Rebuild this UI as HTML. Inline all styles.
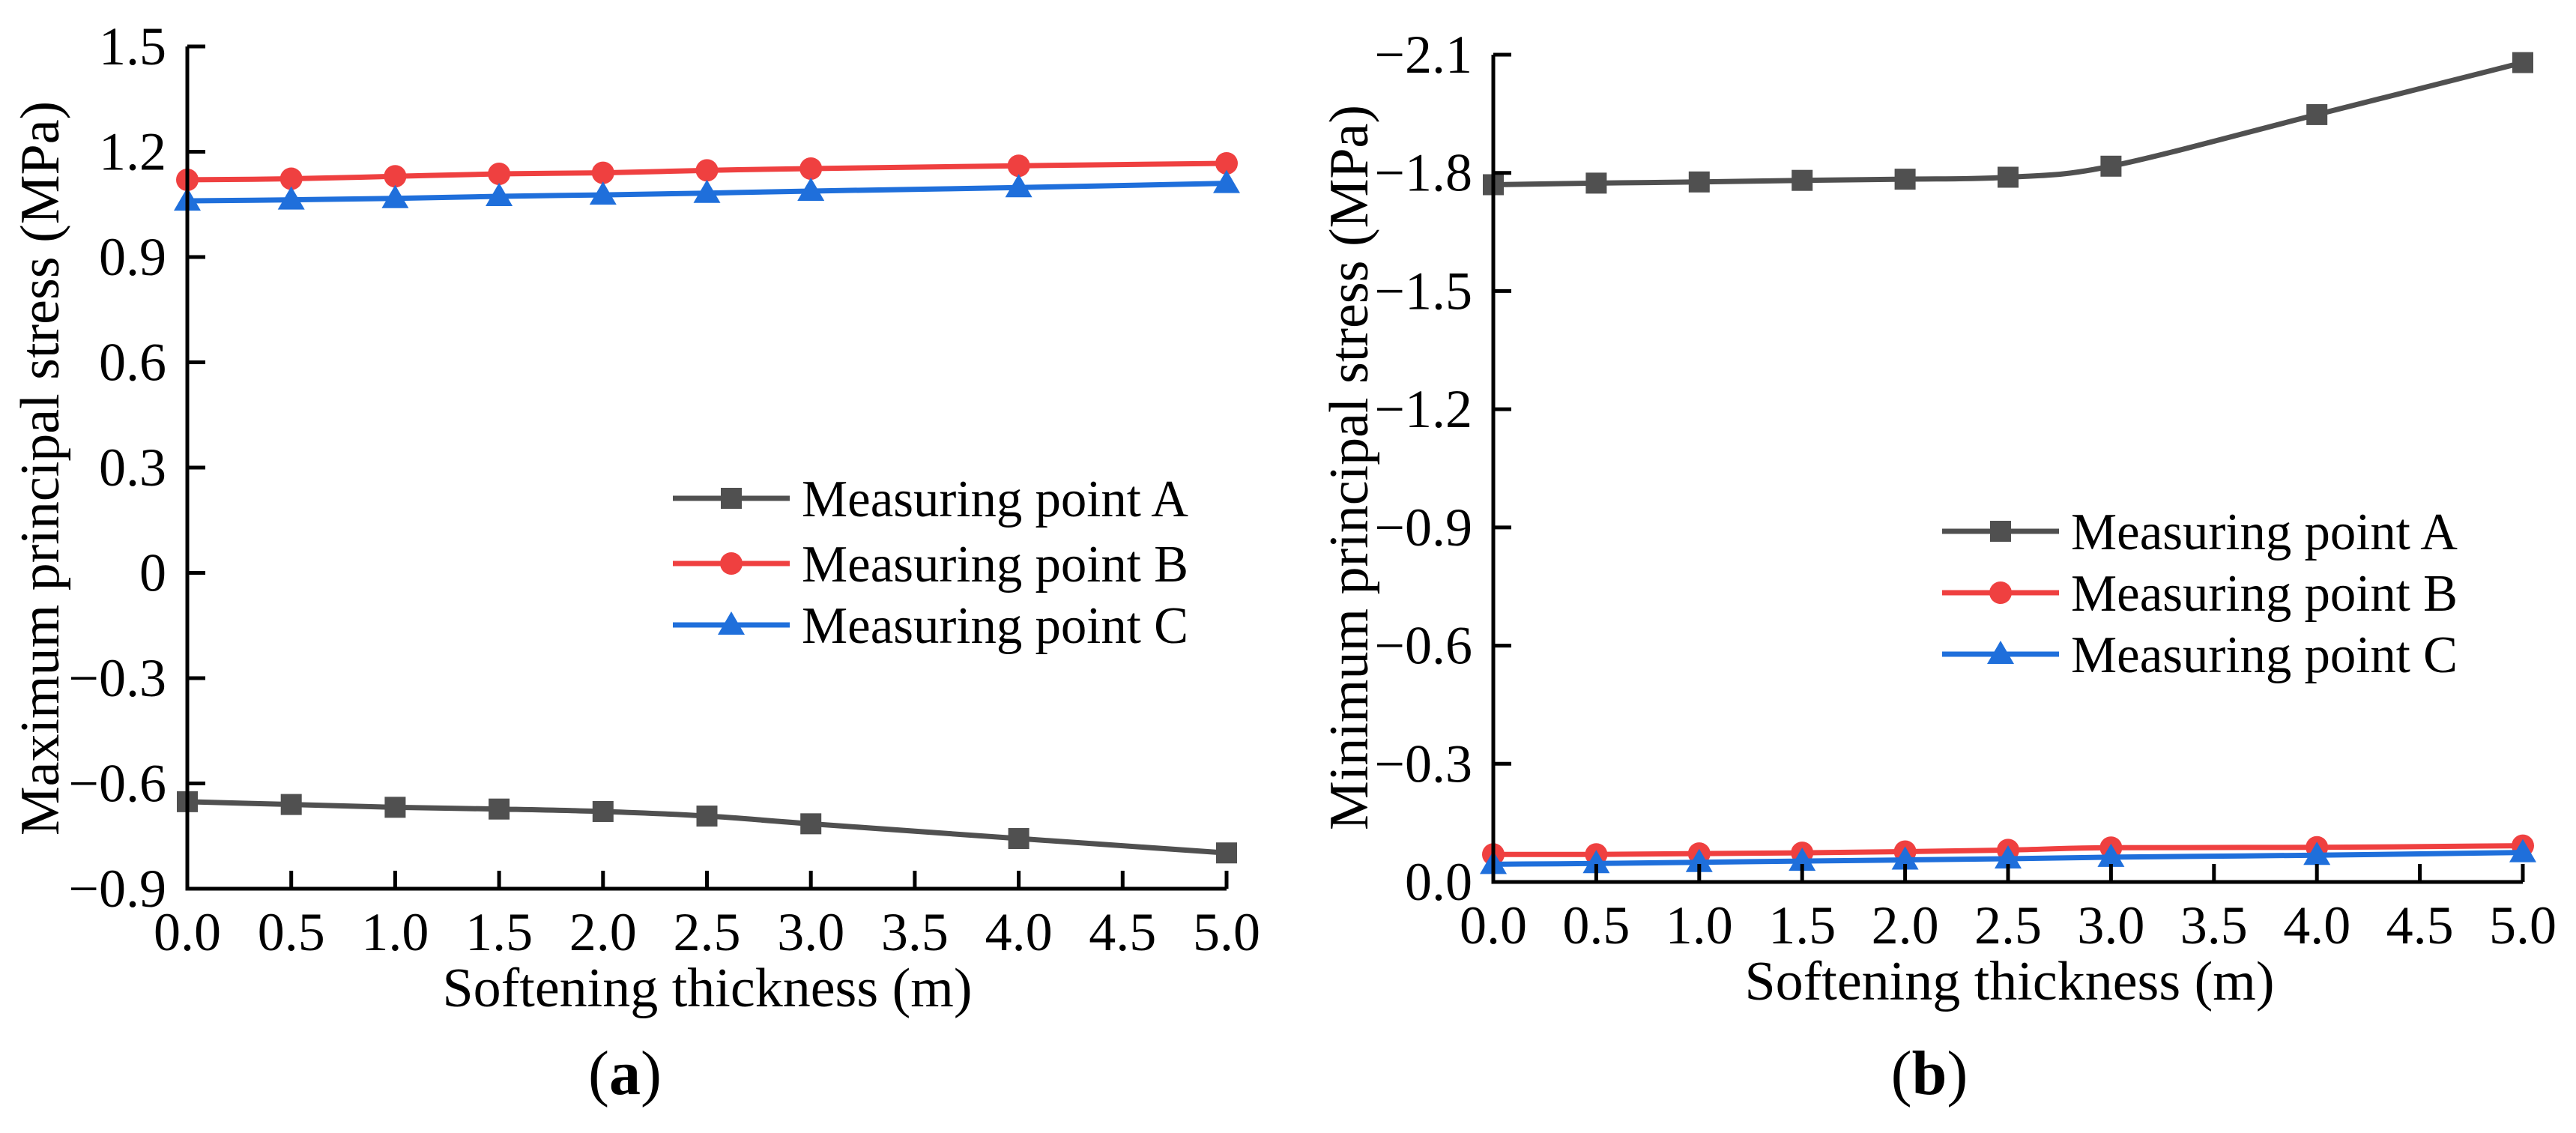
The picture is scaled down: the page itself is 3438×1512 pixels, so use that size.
<!DOCTYPE html>
<html><head><meta charset="utf-8"><style>
html,body{margin:0;padding:0;background:#fff}
svg{display:block}
svg text{font-family:"Liberation Serif","Times New Roman",Times,"DejaVu Serif",serif;fill:#000}
</style></head><body>
<svg id="chart" width="3438" height="1512" viewBox="0 0 3438 1512" xmlns="http://www.w3.org/2000/svg" font-family="Liberation Serif, Times New Roman, serif"></svg>
<script>
const xValues = [0, 0.5, 1, 1.5, 2, 2.5, 3, 4, 5];
const xTicks = [0, 0.5, 1, 1.5, 2, 2.5, 3, 3.5, 4, 4.5, 5];
const xTickLabels = ["0.0","0.5","1.0","1.5","2.0","2.5","3.0","3.5","4.0","4.5","5.0"];
const maxA = [-0.652, -0.66, -0.668, -0.673, -0.68, -0.693, -0.715, -0.757, -0.798];
const maxB = [1.12, 1.123, 1.13, 1.137, 1.14, 1.147, 1.152, 1.16, 1.167];
const maxC = [1.06, 1.063, 1.067, 1.073, 1.077, 1.082, 1.088, 1.098, 1.11];
const maxYTicks = [1.5, 1.2, 0.9, 0.6, 0.3, 0, -0.3, -0.6, -0.9];
const maxYTickLabels = ["1.5","1.2","0.9","0.6","0.3","0","\u22120.3","\u22120.6","\u22120.9"];
const minA = [-1.77, -1.774, -1.777, -1.781, -1.784, -1.789, -1.817, -1.948, -2.08];
const minB = [-0.07, -0.07, -0.072, -0.074, -0.077, -0.081, -0.087, -0.088, -0.092];
const minC = [-0.045, -0.047, -0.05, -0.053, -0.056, -0.059, -0.063, -0.068, -0.075];
const minYTicks = [-2.1, -1.8, -1.5, -1.2, -0.9, -0.6, -0.3, 0];
const minYTickLabels = ["\u22122.1","\u22121.8","\u22121.5","\u22121.2","\u22120.9","\u22120.6","\u22120.3","0.0"];
const seriesNames = ["Measuring point A","Measuring point B","Measuring point C"];

const NS="http://www.w3.org/2000/svg";
const svg=document.getElementById('chart');
const FF='"Liberation Serif","Times New Roman",Times,serif';
function mk(tag,attrs,parent){const e=document.createElementNS(NS,tag);for(const k in attrs)e.setAttribute(k,attrs[k]);if(tag==='text')e.style.fontFamily=FF;(parent||svg).appendChild(e);return e;}
const colors=["#505050","#ef4040","#1f6fdb"];

function smoothPath(pts){
  let d="M"+pts[0][0]+","+pts[0][1];
  for(let i=0;i<pts.length-1;i++){
    const p0=pts[i-1]||pts[i],p1=pts[i],p2=pts[i+1],p3=pts[i+2]||p2;
    const c1=[p1[0]+(p2[0]-p0[0])/6,p1[1]+(p2[1]-p0[1])/6];
    const c2=[p2[0]-(p3[0]-p1[0])/6,p2[1]-(p3[1]-p1[1])/6];
    d+=" C"+c1[0]+","+c1[1]+" "+c2[0]+","+c2[1]+" "+p2[0]+","+p2[1];
  }
  return d;
}
function marker(g,type,x,y,color){
  let m;
  if(type===0){m=mk('rect',{x:x-14,y:y-14,width:28,height:28,fill:color},g);}
  else if(type===1){m=mk('circle',{cx:x,cy:y,r:15,fill:color},g);}
  else {m=mk('polygon',{points:(x)+","+(y-18)+" "+(x-18)+","+(y+13)+" "+(x+18)+","+(y+13),fill:color},g);}
  
  
}

function panel(cfg){
  const g=mk('g',{});
  
  
  const xs=v=>cfg.x0+(v-0)/(5-0)*(cfg.x1-cfg.x0);
  const ys=v=>cfg.yTop+(v-cfg.vTop)/(cfg.vBot-cfg.vTop)*(cfg.yBot-cfg.yTop);
  cfg.series.forEach((s,si)=>{
    const sg=mk('g',{},g);
    
    
    const pts=xValues.map((x,i)=>[xs(x),ys(s[i])]);
    const p=mk('path',{d:smoothPath(pts),fill:'none',stroke:colors[si],'stroke-width':7},sg);
    
    
    pts.forEach(pt=>marker(sg,si,pt[0],pt[1],colors[si]));
  });
  const ax=mk('path',{d:"M"+cfg.x0+","+cfg.yTop+" L"+cfg.x0+","+cfg.yBot+" L"+cfg.x1+","+cfg.yBot,fill:'none',stroke:'#000','stroke-width':5},g);
  
  
  cfg.yTicks.forEach((v,i)=>{
    const y=ys(v);
    const t=mk('line',{x1:cfg.x0,x2:cfg.x0+24,y1:y,y2:y,stroke:'#000','stroke-width':5},g);
    
    
    const l=mk('text',{x:cfg.x0-28,y:y+24,'font-size':72,'text-anchor':'end'},g);
    l.textContent=cfg.yLabels[i];
    
    
  });
  xTicks.forEach((v,i)=>{
    const x=xs(v);
    const t=mk('line',{x1:x,x2:x,y1:cfg.yBot,y2:cfg.yBot-24,stroke:'#000','stroke-width':5},g);
    
    
    const l=mk('text',{x:x,y:cfg.yBot+82,'font-size':72,'text-anchor':'middle'},g);
    l.textContent=xTickLabels[i];
    
    
  });
  const xt=mk('text',{x:(cfg.xTitleX),y:cfg.yBot+157,'font-size':74,'text-anchor':'middle'},g);
  xt.textContent="Softening thickness (m)";
  
  
  const yt=mk('text',{x:0,y:0,'font-size':74,'text-anchor':'middle',transform:"translate("+cfg.yTitleX+","+cfg.yTitleY+") rotate(-90)"},g);
  yt.textContent=cfg.yTitle;
  
  
  const lg=mk('g',{},g);
  
  
  seriesNames.forEach((n,i)=>{
    const y=cfg.legY[i];
    const e=mk('g',{},lg);
    
    
    mk('line',{x1:cfg.legX,x2:cfg.legX+156,y1:y,y2:y,stroke:colors[i],'stroke-width':7},e);
    marker(e,i,cfg.legX+78,y,colors[i]);
    const t=mk('text',{x:cfg.legX+172,y:y+24,'font-size':70,textLength:516,lengthAdjust:'spacingAndGlyphs'},e);
    t.textContent=n;
  });
  const cap=mk('text',{x:cfg.capX,y:1460,'font-size':84,'text-anchor':'middle'},g);
  cap.innerHTML='(<tspan font-weight="bold">'+cfg.cap+'</tspan>)';
  
  
}

panel({name:'panel-a',x0:250,x1:1637,yTop:62,yBot:1186,vTop:1.5,vBot:-0.9,
  series:[maxA,maxB,maxC],yTicks:maxYTicks,yLabels:maxYTickLabels,
  yTitle:"Maximum principal stress (MPa)",yTitleX:78,yTitleY:625,xTitleX:944,
  legX:898,legY:[665,752,834],cap:'a',capX:834});
panel({name:'panel-b',x0:1993,x1:3367,yTop:73,yBot:1177,vTop:-2.1,vBot:0,
  series:[minA,minB,minC],yTicks:minYTicks,yLabels:minYTickLabels,
  yTitle:"Minimum principal stress (MPa)",yTitleX:1825,yTitleY:624,xTitleX:2682,
  legX:2592,legY:[709,791,873],cap:'b',capX:2575});
</script>
</body></html>
